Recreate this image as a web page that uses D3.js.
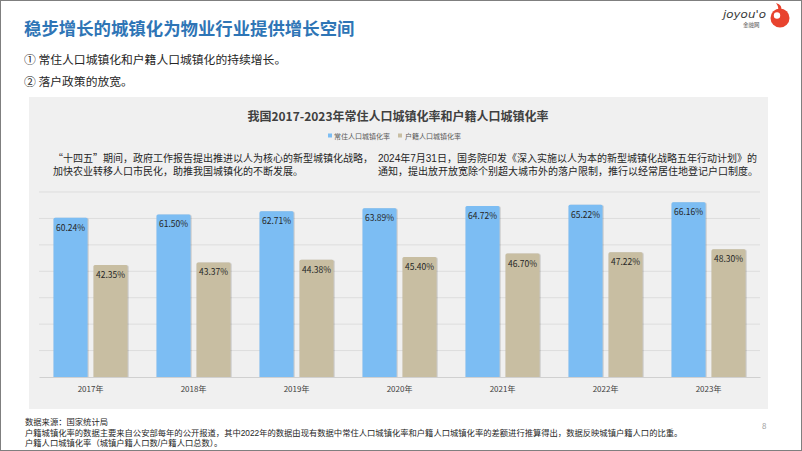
<!DOCTYPE html>
<html><head><meta charset="utf-8">
<script src="https://cdn.jsdelivr.net/npm/d3@7/dist/d3.min.js"></script>
<style>
html,body{margin:0;padding:0;background:#fff;}
svg{display:block;font-family:"Noto Sans CJK SC","Noto Sans",sans-serif;}
</style></head>
<body>
<svg id="c" width="802" height="451"></svg>
<script>
const years = ["2017年","2018年","2019年","2020年","2021年","2022年","2023年"];
const resident = [60.24, 61.50, 62.71, 63.89, 64.72, 65.22, 66.16];
const registered = [42.35, 43.37, 44.38, 45.40, 46.70, 47.22, 48.30];
const seriesNames = ["常住人口城镇化率","户籍人口城镇化率"];
const yTicks = [10,20,30,40,50,60,70];
const colors = ["#7CBDF3","#C8BEA2"];

const mixFont = "'Liberation Sans','Noto Sans CJK SC',sans-serif";
const cjkFont = "'Noto Sans CJK SC',sans-serif";
const svg = d3.select("#c");
// outer border
svg.append("rect").attr("x",0.5).attr("y",0.5).attr("width",801).attr("height",450)
  .attr("fill","#fff").attr("stroke","#7f7f7f").attr("stroke-width",1);

// header
svg.append("text").attr("x",24).attr("y",35).attr("fill","#2E75B6")
  .attr("font-size",17.4).attr("font-weight","bold").text("稳步增长的城镇化为物业行业提供增长空间");
svg.append("text").attr("x",24).attr("y",64).attr("fill","#262626").attr("font-size",11.8)
  .text("① 常住人口城镇化和户籍人口城镇化的持续增长。");
svg.append("text").attr("x",24).attr("y",86).attr("fill","#262626").attr("font-size",11.8)
  .text("② 落户政策的放宽。");

// logo
const logo = svg.append("g");
logo.append("text").attr("x",723).attr("y",18).attr("font-size",11).attr("font-style","italic")
  .attr("fill","#3a3a3a").attr("textLength",43).attr("lengthAdjust","spacingAndGlyphs")
  .attr("font-family","DejaVu Sans").text("joyou'o");
logo.append("text").attr("x",743).attr("y",27).attr("font-size",5.5).attr("fill","#555").text("金融网");
logo.append("circle").attr("cx",780).attr("cy",18).attr("r",9.5).attr("fill","#E8432E");
logo.append("circle").attr("cx",777).attr("cy",15.5).attr("r",3.2).attr("fill","#fff");
logo.append("path").attr("d","M776,3 Q783,5 781,11 L778,10 Q779,7 776,3Z").attr("fill","#E8432E");

// panel
svg.append("rect").attr("x",29).attr("y",97).attr("width",739).attr("height",312).attr("fill","#F0F0F0");

svg.append("text").attr("x",398).attr("y",121).attr("text-anchor","middle").attr("font-size",12)
  .attr("font-weight","bold").attr("fill","#404040").text("我国2017-2023年常住人口城镇化率和户籍人口城镇化率");

// legend
const leg = [{x:329,tx:333},{x:399,tx:404}];
seriesNames.forEach((n,i)=>{
  svg.append("rect").attr("x",leg[i].x-1).attr("y",133.5).attr("width",4).attr("height",4).attr("fill",colors[i]);
  svg.append("text").attr("x",leg[i].tx+1).attr("y",138.5).attr("font-size",7).attr("fill","#595959").text(n);
});

// annotations
const ann = svg.append("g").attr("font-size",10).attr("fill","#262626").attr("font-family",mixFont);
const l1 = ann.append("text").attr("x",53).attr("y",162);
l1.append("tspan").attr("font-family",cjkFont).text("“");
l1.append("tspan").text("十四五");
l1.append("tspan").attr("font-family",cjkFont).text("”");
l1.append("tspan").text("期间，政府工作报告提出推进以人为核心的新型城镇化战略，");
ann.append("text").attr("x",53).attr("y",175).text("加快农业转移人口市民化，助推我国城镇化的不断发展。");
ann.append("text").attr("x",378).attr("y",162).text("2024年7月31日，国务院印发《深入实施以人为本的新型城镇化战略五年行动计划》的");
ann.append("text").attr("x",378).attr("y",175).text("通知，提出放开放宽除个别超大城市外的落户限制，推行以经常居住地登记户口制度。");

// scales
const x = d3.scaleBand().domain(years).range([39,760]).padding(0);
const xi = d3.scaleBand().domain([0,1]).range([14.5,88.5]).paddingInner(0.15).paddingOuter(0);
const y = d3.scaleLinear().domain([0,70]).range([377,192]);

// gridlines
svg.append("g").selectAll("line").data(yTicks).join("line")
  .attr("x1",39).attr("x2",760).attr("y1",d=>y(d)).attr("y2",d=>y(d))
  .attr("stroke","#DDDDDD").attr("stroke-width",1);

// shadow filter
const defs = svg.append("defs");
const f = defs.append("filter").attr("id","sh").attr("x","-20%").attr("y","-10%").attr("width","140%").attr("height","120%");
f.append("feDropShadow").attr("dx",0.6).attr("dy",0.3).attr("stdDeviation",0.7).attr("flood-color","#000").attr("flood-opacity",0.35);

const data = years.map((yr,i)=>({yr, vals:[resident[i], registered[i]]}));
const g = svg.append("g");
data.forEach(d=>{
  d.vals.forEach((v,k)=>{
    const bx = x(d.yr)+xi(k), bw = xi.bandwidth();
    g.append("path").attr("filter","url(#sh)").attr("fill",colors[k])
      .attr("d",()=>{
        const t=y(v), b=y(0), r=1.5;
        return `M${bx},${b} L${bx},${t+r} Q${bx},${t} ${bx+r},${t} L${bx+bw-r},${t} Q${bx+bw},${t} ${bx+bw},${t+r} L${bx+bw},${b}Z`;
      });
    g.append("text").attr("x",bx+bw/2).attr("y",y(v)+13).attr("text-anchor","middle")
      .attr("font-size",8.5).attr("fill","#262626").text(v.toFixed(2)+"%");
  });
});

// baseline axis
const xAxis = d3.axisBottom(x).tickSize(0).tickPadding(9);
const ax = svg.append("g").attr("transform",`translate(0,${y(0)})`).call(xAxis);
ax.select(".domain").attr("stroke","#D0D0D0");
ax.selectAll("text").attr("font-size",8).attr("fill","#404040").attr("font-family","Noto Sans CJK SC");

// footer
const ft = svg.append("g").attr("font-size",8.3).attr("fill","#262626").attr("font-family",mixFont);
ft.append("text").attr("x",25).attr("y",425).text("数据来源：国家统计局");
ft.append("text").attr("x",25).attr("y",435.5).text("户籍城镇化率的数据主要来自公安部每年的公开报道，其中2022年的数据由现有数据中常住人口城镇化率和户籍人口城镇化率的差额进行推算得出，数据反映城镇户籍人口的比重。");
ft.append("text").attr("x",25).attr("y",446).text("户籍人口城镇化率（城镇户籍人口数/户籍人口总数）。");
svg.append("text").attr("x",762).attr("y",429).attr("font-size",8).attr("fill","#a0a0a0").text("8");
</script>
</body></html>
